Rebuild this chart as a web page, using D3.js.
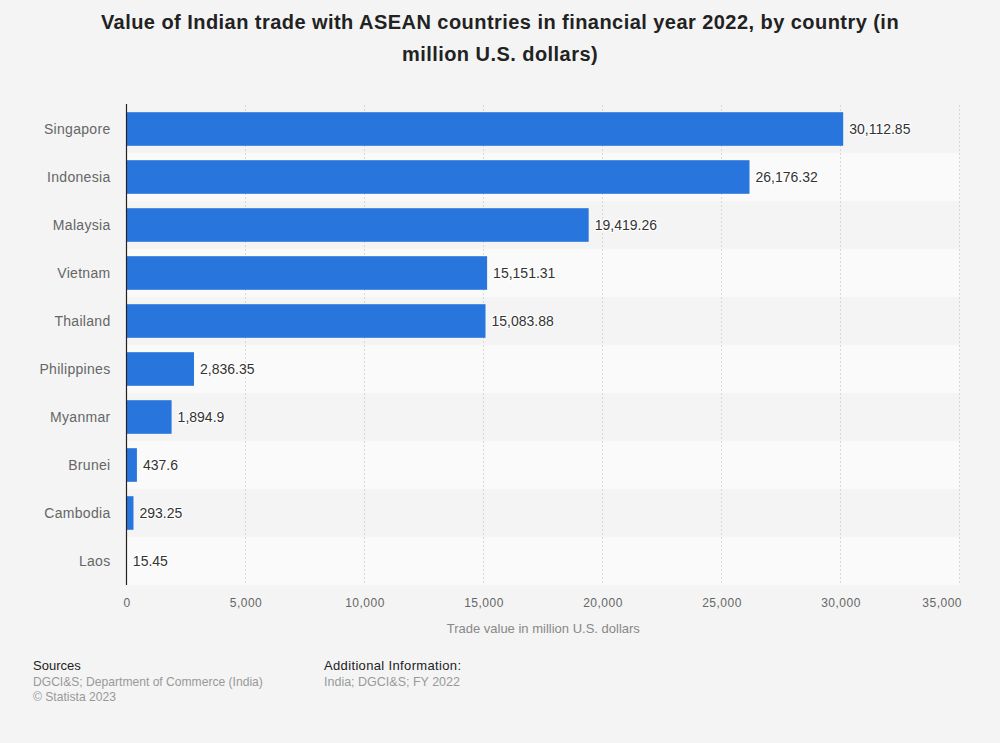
<!DOCTYPE html>
<html>
<head>
<meta charset="utf-8">
<script src="https://cdn.jsdelivr.net/npm/d3@7"></script>
<style>
  body { margin: 0; background: #f4f4f4; }
  svg { display: block; font-family: "Liberation Sans", Arial, sans-serif; }
</style>
</head>
<body>
<svg width="1000" height="743"></svg>
<script>
// Data
const countries = ['Singapore', 'Indonesia', 'Malaysia', 'Vietnam', 'Thailand',
  'Philippines', 'Myanmar', 'Brunei', 'Cambodia', 'Laos']
const tradeValues = [30112.85, 26176.32, 19419.26, 15151.31, 15083.88,
  2836.35, 1894.9, 437.6, 293.25, 15.45]
const valueLabels = ['30,112.85', '26,176.32', '19,419.26', '15,151.31', '15,083.88',
  '2,836.35', '1,894.9', '437.6', '293.25', '15.45']
const xTicks = [0, 5000, 10000, 15000, 20000, 25000, 30000, 35000]

const svg = d3.select('svg')
const width = +svg.attr('width')
const height = +svg.attr('height')

svg.append('rect')
    .attr('width', width)
    .attr('height', height)
    .attr('fill', '#f4f4f4')

const margin = { top: 105, right: 40, bottom: 158, left: 126.5 }
const innerW = width - margin.left - margin.right
const innerH = height - margin.top - margin.bottom

// Title
const title = svg.append('text')
    .attr('text-anchor', 'middle')
    .attr('font-size', 20)
    .attr('font-weight', 'bold')
    .attr('letter-spacing', '0.45px')
    .attr('fill', '#222')
title.append('tspan').attr('x', width / 2).attr('y', 29)
    .text('Value of Indian trade with ASEAN countries in financial year 2022, by country (in')
title.append('tspan').attr('x', width / 2).attr('y', 61)
    .text('million U.S. dollars)')

const x = d3.scaleLinear().domain([0, 35000]).range([0, innerW - 0.5])
const y = d3.scaleBand().domain(countries).range([0, innerH]).paddingInner(0.3).paddingOuter(0.15)
const rows = d3.scaleBand().domain(countries).range([0, innerH])

const g = svg.append('g')
    .attr('transform', `translate(${margin.left}, ${margin.top})`)

// alternating row bands
g.selectAll('.band')
  .data(countries)
  .enter().append('rect')
    .attr('x', 0)
    .attr('y', d => rows(d))
    .attr('width', innerW)
    .attr('height', rows.bandwidth())
    .attr('fill', (d, i) => i % 2 ? '#fafafa' : '#f4f4f4')

// dotted grid
g.selectAll('.grid')
  .data(xTicks.slice(1))
  .enter().append('line')
    .attr('x1', d => x(d)).attr('x2', d => x(d))
    .attr('y1', 0).attr('y2', innerH)
    .attr('stroke', '#d8d8d8')
    .attr('stroke-dasharray', '2,2')

// bars
g.selectAll('.bar')
  .data(tradeValues)
  .enter().append('rect')
    .attr('x', 0)
    .attr('y', (d, i) => y(countries[i]))
    .attr('width', d => x(d))
    .attr('height', y.bandwidth())
    .attr('fill', '#2876dd')

// value labels
g.selectAll('.val')
  .data(tradeValues)
  .enter().append('text')
    .attr('x', d => x(d) + 6)
    .attr('y', (d, i) => rows(countries[i]) + rows.bandwidth() / 2)
    .attr('dy', '0.35em')
    .attr('font-size', 14)
    .attr('fill', '#333')
    .attr('stroke', '#fff')
    .attr('stroke-width', 2)
    .attr('paint-order', 'stroke')
    .text((d, i) => valueLabels[i])

// y axis labels
g.selectAll('.cat')
  .data(countries)
  .enter().append('text')
    .attr('x', -16)
    .attr('y', d => rows(d) + rows.bandwidth() / 2)
    .attr('dy', '0.35em')
    .attr('text-anchor', 'end')
    .attr('font-size', 14)
    .attr('letter-spacing', '0.3px')
    .attr('fill', '#666')
    .text(d => d)

// x axis
const xAxis = g.append('g')
    .attr('transform', `translate(0, ${innerH})`)
    .call(d3.axisBottom(x).tickValues(xTicks).tickFormat(d3.format(',')).tickSize(0).tickPadding(13))
xAxis.select('.domain').remove()
xAxis.selectAll('text')
    .attr('font-size', 12)
    .attr('fill', '#666')
    .attr('letter-spacing', '0.5px')
    .attr('font-family', '"Liberation Sans", Arial, sans-serif')
// last label kept inside the plot, as in the original
xAxis.selectAll('text')
    .filter(d => d === xTicks[xTicks.length - 1])
    .attr('text-anchor', 'end')
    .attr('dx', 2)

// left axis line
g.append('line')
    .attr('x1', 0).attr('x2', 0)
    .attr('y1', -1).attr('y2', innerH)
    .attr('stroke', '#222')
    .attr('stroke-width', 1.2)

// axis title
svg.append('text')
    .attr('x', margin.left + innerW / 2)
    .attr('y', 633)
    .attr('text-anchor', 'middle')
    .attr('font-size', 13)
    .attr('fill', '#888')
    .text('Trade value in million U.S. dollars')

// footer
const footer = [
  { x: 33, y: 670, text: 'Sources', fill: '#222', size: 13, ls: 0 },
  { x: 33, y: 686, text: 'DGCI&S; Department of Commerce (India)', fill: '#999', size: 12.1, ls: 0 },
  { x: 33, y: 701, text: '© Statista 2023', fill: '#999', size: 12.1, ls: 0 },
  { x: 324, y: 670, text: 'Additional Information:', fill: '#222', size: 13, ls: 0.35 },
  { x: 324, y: 686, text: 'India; DGCI&S; FY 2022', fill: '#999', size: 12.5, ls: 0 }
]
svg.selectAll('.foot')
  .data(footer)
  .enter().append('text')
    .attr('x', d => d.x)
    .attr('y', d => d.y)
    .attr('font-size', d => d.size)
    .attr('letter-spacing', d => d.ls + 'px')
    .attr('fill', d => d.fill)
    .text(d => d.text)
</script>
</body>
</html>
